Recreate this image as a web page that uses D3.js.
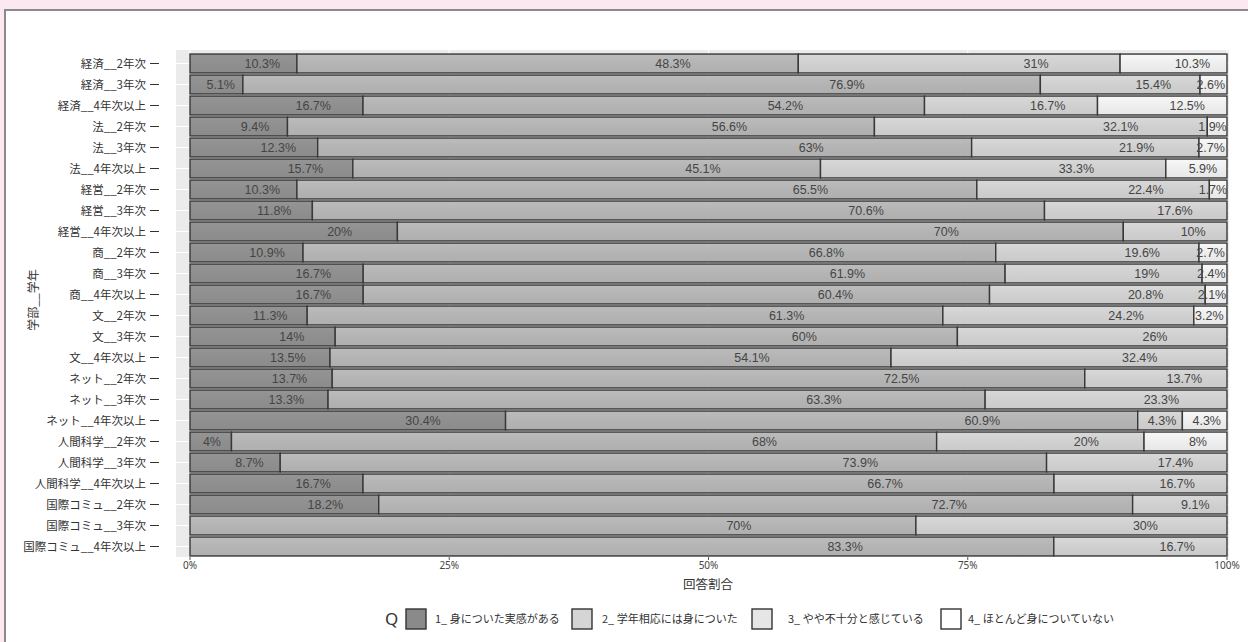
<!DOCTYPE html>
<html>
<head>
<meta charset="utf-8">
<script src="https://cdn.jsdelivr.net/npm/d3@7"></script>
<style>
  html, body { margin: 0; padding: 0; background: #fce8f0; }
  svg { display: block; }
</style>
</head>
<body>
<svg id="chart" width="1248" height="642"></svg>
<script>
// 学部・学年ごとの回答割合（%）
const categories = [
  "経済__2年次", "経済__3年次", "経済__4年次以上",
  "法__2年次", "法__3年次", "法__4年次以上",
  "経営__2年次", "経営__3年次", "経営__4年次以上",
  "商__2年次", "商__3年次", "商__4年次以上",
  "文__2年次", "文__3年次", "文__4年次以上",
  "ネット__2年次", "ネット__3年次", "ネット__4年次以上",
  "人間科学__2年次", "人間科学__3年次", "人間科学__4年次以上",
  "国際コミュ__2年次", "国際コミュ__3年次", "国際コミュ__4年次以上"
];
const q1 = [10.3, 5.1, 16.7, 9.4, 12.3, 15.7, 10.3, 11.8, 20, 10.9, 16.7, 16.7, 11.3, 14, 13.5, 13.7, 13.3, 30.4, 4, 8.7, 16.7, 18.2, 0, 0];
const q2 = [48.3, 76.9, 54.2, 56.6, 63, 45.1, 65.5, 70.6, 70, 66.8, 61.9, 60.4, 61.3, 60, 54.1, 72.5, 63.3, 60.9, 68, 73.9, 66.7, 72.7, 70, 83.3];
const q3 = [31, 15.4, 16.7, 32.1, 21.9, 33.3, 22.4, 17.6, 10, 19.6, 19, 20.8, 24.2, 26, 32.4, 13.7, 23.3, 4.3, 20, 17.4, 16.7, 9.1, 30, 16.7];
const q4 = [10.3, 2.6, 12.5, 1.9, 2.7, 5.9, 1.7, 0, 0, 2.7, 2.4, 2.1, 3.2, 0, 0, 0, 0, 4.3, 8, 0, 0, 0, 0, 0];
const seriesKeys = ["1_ 身についた実感がある", "2_ 学年相応には身についた", "3_ やや不十分と感じている", "4_ ほとんど身についていない"];
const xTicks = [0, 0.25, 0.5, 0.75, 1];
const xTickLabels = ["0%", "25%", "50%", "75%", "100%"];

const barColors = ["#8f8f8f", "#b4b4b4", "#d0d0d0", "#eeeeee"];
const keyColors = ["#8a8a8a", "#d5d5d5", "#e6e6e6", "#ffffff"];

const svg = d3.select("#chart");

// page frame
svg.append("rect").attr("x", 5).attr("y", 10).attr("width", 1260).attr("height", 660)
  .attr("fill", "#ffffff").attr("stroke", "#8a8a8a").attr("stroke-width", 2);

const x = d3.scaleLinear().domain([0, 1]).range([190, 1227]);
const y = d3.scaleBand().domain(categories).range([53, 557]).paddingInner(0.1).paddingOuter(0.05);

// panel
svg.append("rect").attr("x", 176).attr("y", 50).attr("width", 1053).attr("height", 507).attr("fill", "#ebebeb");
svg.append("g").selectAll("line").data(categories).join("line")
  .attr("x1", 176).attr("x2", 1229)
  .attr("y1", d => y(d) + y.bandwidth() / 2).attr("y2", d => y(d) + y.bandwidth() / 2)
  .attr("stroke", "#ffffff").attr("stroke-width", 1.1);
svg.append("g").selectAll("line").data(xTicks).join("line")
  .attr("x1", d => x(d)).attr("x2", d => x(d)).attr("y1", 50).attr("y2", 557)
  .attr("stroke", "#ffffff").attr("stroke-width", 1.1);

// stacked rows normalised to 100%
const rows = categories.map((c, i) => {
  const vals = [q1[i], q2[i], q3[i], q4[i]];
  const total = d3.sum(vals);
  let acc = 0;
  return vals.map((v, k) => {
    const s = acc / total; acc += v;
    return { cat: c, k, v, x0: s, x1: acc / total };
  }).filter(d => d.v > 0);
});
const segs = rows.flat();

const defs = svg.append("defs");
barColors.forEach((c, k) => {
  const g = defs.append("linearGradient").attr("id", "sh" + k).attr("x1", 0).attr("x2", 0).attr("y1", 0).attr("y2", 1);
  g.append("stop").attr("offset", "0%").attr("stop-color", d3.color(c).brighter(0.12));
  g.append("stop").attr("offset", "50%").attr("stop-color", c);
  g.append("stop").attr("offset", "100%").attr("stop-color", d3.color(c).darker(0.08));
});

svg.append("g").selectAll("rect").data(segs).join("rect")
  .attr("x", d => x(d.x0)).attr("width", d => x(d.x1) - x(d.x0))
  .attr("y", d => y(d.cat)).attr("height", y.bandwidth())
  .attr("fill", d => `url(#sh${d.k})`)
  .attr("stroke", "#383838").attr("stroke-width", 1.4);

// value labels, set toward the right end of each segment
const fmt = v => `${v}%`;
svg.append("g").selectAll("text").data(segs).join("text")
  .attr("x", d => {
    const a = x(d.x0), w = x(d.x1) - x(d.x0);
    return a + 0.77 * w - 10;
  })
  .attr("y", d => y(d.cat) + y.bandwidth() / 2)
  .attr("dy", "0.36em")
  .attr("text-anchor", "middle")
  .attr("font-family", "Liberation Sans, Arial, sans-serif")
  .attr("font-size", 12.5)
  .attr("fill", "#454545")
  .text(d => fmt(d.v));

// y axis
const yg = svg.append("g");
yg.selectAll("text").data(categories).join("text")
  .attr("x", 146).attr("y", d => y(d) + y.bandwidth() / 2).attr("dy", "0.36em")
  .attr("text-anchor", "end")
  .attr("font-family", "Noto Sans CJK JP, sans-serif").attr("font-size", 11.5)
  .attr("fill", "#333").text(d => d);
yg.selectAll("line").data(categories).join("line")
  .attr("x1", 150).attr("x2", 159)
  .attr("y1", d => y(d) + y.bandwidth() / 2).attr("y2", d => y(d) + y.bandwidth() / 2)
  .attr("stroke", "#333").attr("stroke-width", 1);

svg.append("text").attr("transform", "translate(38,300) rotate(-90)")
  .attr("text-anchor", "middle").attr("font-family", "Noto Sans CJK JP, sans-serif")
  .attr("font-size", 12).attr("fill", "#333").text("学部__学年");

// x axis
const xg = svg.append("g");
xg.selectAll("line").data(xTicks).join("line")
  .attr("x1", d => x(d)).attr("x2", d => x(d)).attr("y1", 557).attr("y2", 560)
  .attr("stroke", "#555").attr("stroke-width", 1);
xg.selectAll("text").data(xTicks).join("text")
  .attr("x", d => x(d)).attr("y", 569)
  .attr("text-anchor", "middle").attr("font-family", "Noto Sans, sans-serif")
  .attr("font-size", 10).attr("fill", "#444")
  .text((d, i) => xTickLabels[i]);
svg.append("text").attr("x", 708).attr("y", 589).attr("text-anchor", "middle")
  .attr("font-family", "Noto Sans CJK JP, sans-serif").attr("font-size", 12.5)
  .attr("fill", "#333").text("回答割合");

// legend
const lg = svg.append("g");
lg.append("text").attr("x", 385).attr("y", 625).attr("font-family", "Noto Sans, sans-serif")
  .attr("font-size", 17).attr("fill", "#333").text("Q");
const keyX = [406, 572, 752, 941];
const keyTextX = [435, 602, 788, 968];
lg.selectAll("rect").data(seriesKeys).join("rect")
  .attr("x", (d, i) => keyX[i]).attr("y", 609).attr("width", 20).attr("height", 20)
  .attr("fill", (d, i) => keyColors[i]).attr("stroke", "#333").attr("stroke-width", 1.4);
lg.selectAll("text.k").data(seriesKeys).join("text").attr("class", "k")
  .attr("x", (d, i) => keyTextX[i]).attr("y", 619).attr("dy", "0.36em")
  .attr("font-family", "Noto Sans CJK JP, sans-serif").attr("font-size", 11)
  .attr("fill", "#333").text(d => d);
</script>
</body>
</html>
